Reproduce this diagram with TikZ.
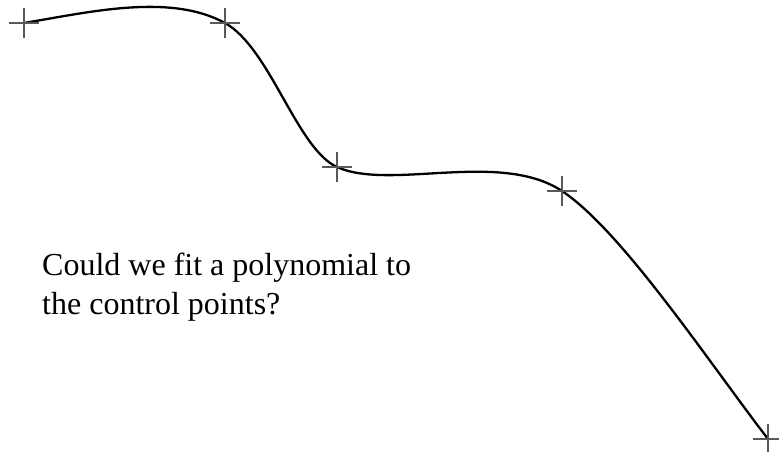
\documentclass[tikz,border=0pt]{standalone}
\usepackage{fontspec}
\setmainfont{Liberation Serif}
\begin{document}
\begin{tikzpicture}[x=1pt,y=-1pt,
  crossmark/.style={draw=black!65,line width=1.1pt},
  curveline/.style={draw=black,line width=2.3pt,line cap=round},
  label/.style={inner sep=0pt,anchor=base west,font=\fontsize{32}{38}\selectfont}]
\useasboundingbox (0,0) rectangle (779,451);
\coordinate (p0) at (24,23);
\coordinate (p1) at (225,23);
\coordinate (p2) at (337,167);
\coordinate (p3) at (562,191);
\coordinate (p4) at (768,439);
\draw[curveline] (p0) .. controls +(66,-11) and +(-55,-30) .. (p1)
  .. controls +(45,25) and +(-40,-18) .. (p2)
  .. controls +(53,24) and +(-62,-41) .. (p3)
  .. controls +(60,40) and +(-60,-78) .. (p4);
\foreach \p in {p0,p1,p2,p3,p4}{
  \draw[crossmark] ([xshift=-15pt]\p) -- ([xshift=15pt]\p);
  \draw[crossmark] ([yshift=-15pt]\p) -- ([yshift=15pt]\p);
}
\node[label] (q1) at (42,275.7) {Could we fit a polynomial to};
\node[label] (q2) at (42,314) {the control points?};
\end{tikzpicture}
\end{document}
